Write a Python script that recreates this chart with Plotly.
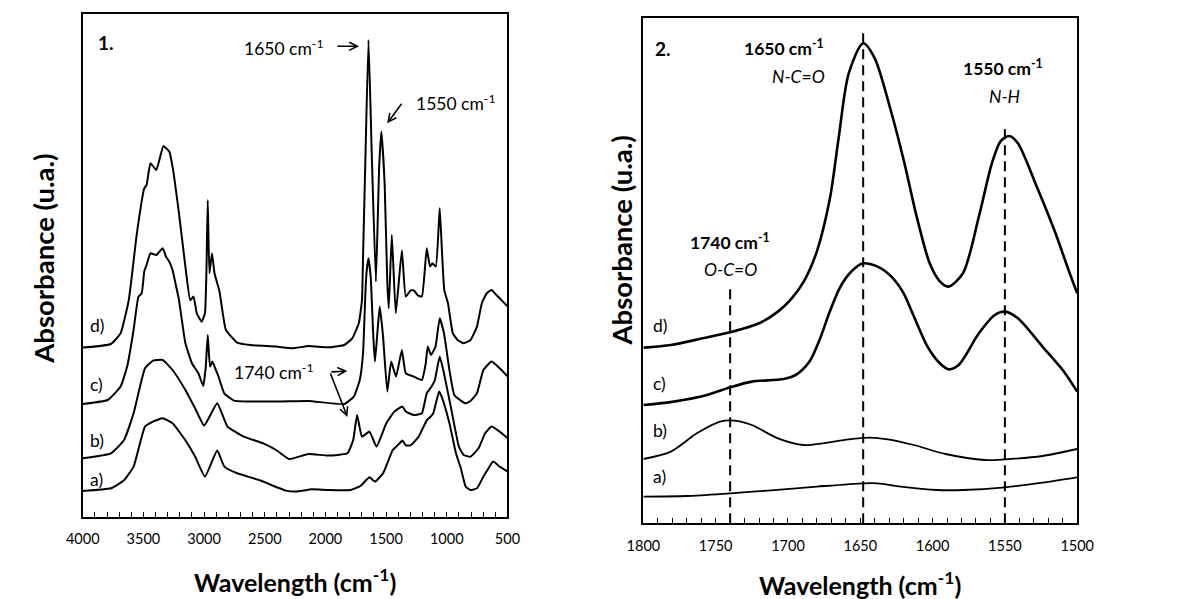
import plotly.graph_objects as go

# ---------------- Panel 1 data (wavenumber cm-1, absorbance u.a.) ----------------
a1_wn = [4000, 3768, 3661, 3581, 3487, 3421, 3341, 3260, 3154, 3074, 2993, 2892, 2833, 2727, 2540,
         2326, 2246, 2112, 1979, 1792, 1712, 1637, 1592, 1525, 1445, 1405, 1365, 1338, 1298, 1231,
         1165, 1138, 1111, 1063, 1031, 978, 924, 884, 844, 804, 751, 698, 666, 618, 564, 497]
a1_y = [26.3, 29, 37, 50.7, 90.7, 95.7, 99, 94, 77, 60.7, 40.7, 66.7, 50.7, 44, 37,
        26.7, 25.7, 28, 27.3, 27.3, 31.3, 40, 35.7, 44, 67.3, 72, 76.7, 72, 72, 80.7,
        97, 100, 104, 125.7, 117, 94, 64, 49, 30.7, 27.3, 29, 40.7, 47, 55.7, 50.7, 45.7]

b1_wn = [4000, 3768, 3661, 3581, 3487, 3421, 3341, 3260, 3154, 3074, 2999, 2892, 2807, 2673, 2513,
         2406, 2299, 2139, 1979, 1819, 1771, 1739, 1699, 1637, 1579, 1498, 1432, 1365, 1338, 1271,
         1205, 1165, 1125, 1098, 1058, 1023, 967, 900, 860, 804, 738, 684, 631, 564, 497]
b1_y = [59, 64, 77, 104, 149, 156.7, 157.3, 147.3, 127.3, 109, 91.7, 114, 90.7, 80.7, 74,
        67.3, 58.3, 63.3, 61.7, 64, 77.3, 102.3, 80.7, 85.7, 70.7, 94, 105.7, 110.7, 105.7, 102.3,
        104, 124, 130.7, 137.3, 160.7, 144, 110.7, 70.7, 62.3, 60.7, 69, 84, 90.7, 85.7, 79]

c1_wn = [4000, 3794, 3688, 3634, 3581, 3541, 3514, 3493, 3474, 3442, 3394, 3341, 3314, 3287, 3260,
         3230, 3207, 3154, 3100, 3079, 3047, 3007, 2986, 2970, 2951, 2932, 2908, 2881, 2833, 2753,
         2406, 2139, 1845, 1766, 1717, 1690, 1672, 1661, 1645, 1627, 1605, 1592, 1570, 1552, 1525,
         1490, 1458, 1418, 1370, 1338, 1271, 1205, 1173, 1157, 1130, 1093, 1058, 1023, 978, 938,
         884, 844, 804, 751, 698, 631, 564, 497]
c1_y = [113.3, 117.3, 130.7, 150.7, 187.3, 220.7, 224, 245.7, 252.3, 264, 262.3, 269, 260.7, 255.7, 247.3,
        230.7, 217.3, 174, 154, 150, 144, 131.3, 150.7, 182.3, 150.7, 155.7, 149, 140.7, 124, 116.7,
        115.7, 116.3, 113.3, 120.7, 137.3, 164, 220, 245, 259, 240.7, 180, 155.7, 187.3, 210.7, 180.7,
        125.7, 155.7, 140.7, 167.3, 144, 140.7, 137.3, 154, 170.7, 162.3, 170.7, 199, 184, 147.3, 122.3,
        116.7, 114, 116.3, 124, 147.3, 155.7, 149, 140.7]

d1_wn = [4000, 3768, 3688, 3621, 3554, 3493, 3474, 3442, 3394, 3335, 3287, 3260, 3207, 3154, 3114,
         3087, 3060, 3020, 2993, 2980, 2970, 2956, 2935, 2914, 2873, 2846, 2820, 2727, 2620, 2406,
         2273, 2139, 1979, 1845, 1779, 1725, 1699, 1690, 1672, 1645, 1619, 1584, 1557, 1539, 1512,
         1490, 1478, 1453, 1420, 1370, 1338, 1298, 1271, 1240, 1205, 1165, 1138, 1118, 1090, 1058,
         1040, 1020, 990, 950, 910, 860, 804, 751, 711, 671, 631, 591, 537, 497]
d1_y = [169.7, 173.3, 184, 217, 284, 329, 332.3, 354, 347.3, 371.3, 365.7, 350.7, 304, 250.7, 217,
        220.7, 204, 195.7, 204, 250, 317.3, 244, 264, 244, 225.7, 204, 187.3, 174.7, 172.3, 170.7,
        169, 171.3, 170, 172.3, 179, 194, 217, 260, 350.7, 477.3, 367.3, 235.7, 350.7, 385.7, 334,
        234, 209, 282.3, 204, 267, 220.7, 227, 227, 222, 220.7, 269, 250.7, 254, 250.7, 309,
        267, 227, 214, 184, 177.3, 174, 177.3, 190.7, 214, 224, 227.3, 222.3, 215.7, 210.7]

# ---------------- Panel 2 data (zoom 1800-1500 cm-1) ----------------
a2_wn = [1800, 1770, 1740, 1714, 1680, 1648, 1638, 1622, 1597, 1579, 1550, 1524, 1500]
a2_y = [26.7, 27.3, 30, 32.7, 36.7, 40, 40, 36.7, 33.3, 33.3, 36, 40.7, 46]

b2_wn = [1800, 1781, 1763, 1747, 1737, 1725, 1707, 1689, 1676, 1658, 1644, 1631, 1613, 1591, 1564, 1550, 1524, 1500]
b2_y = [64.3, 71.7, 90, 101.7, 102.7, 98.3, 85, 78.3, 80, 84, 85.7, 84, 78.3, 69.3, 63.3, 64, 67.3, 74.3]

c2_wn = [1800, 1779, 1756, 1740, 1725, 1703, 1694, 1685, 1678, 1671, 1664, 1656, 1648, 1637, 1628,
         1620, 1613, 1604, 1595, 1589, 1582, 1568, 1557, 1550, 1541, 1524, 1510, 1500]
c2_y = [118.3, 121.7, 128.3, 136, 141.7, 144.3, 149, 162, 184, 212, 236, 252, 260, 256, 246,
        230, 207, 178, 160, 154, 158.3, 190, 208.3, 211.7, 205, 176.7, 153.3, 131.7]

d2_wn = [1800, 1781, 1759, 1740, 1720, 1707, 1698, 1689, 1680, 1671, 1665, 1658, 1648, 1640, 1629,
         1620, 1611, 1602, 1595, 1589, 1579, 1568, 1559, 1553, 1547, 1541, 1528, 1515, 1506, 1500]
d2_y = [175.7, 178.3, 185, 191, 200, 211.7, 224, 242, 272, 325, 385, 450, 480, 465, 413.3,
        363.3, 306.7, 260, 242, 236.7, 250, 306.7, 360, 382, 387.3, 380, 336.7, 290, 253.3, 230]

band_wn = [1740, 1648, 1550]
band_top = [235, 495, 398]

series_labels = ["a)", "b)", "c)", "d)"]
left_label_y = [38, 77, 133, 192]
right_label_y = [47.3, 93.3, 140.3, 198.3]

W, H = 1178, 599
FONT = "Lato"

fig = go.Figure()

for xs, ys in [(a1_wn, a1_y), (b1_wn, b1_y), (c1_wn, c1_y), (d1_wn, d1_y)]:
    fig.add_trace(go.Scatter(x=xs, y=ys, mode="lines",
                             line=dict(color="black", width=2, shape="spline", smoothing=0.4),
                             xaxis="x", yaxis="y", showlegend=False, hoverinfo="skip"))

for (xs, ys), w in zip([(a2_wn, a2_y), (b2_wn, b2_y), (c2_wn, c2_y), (d2_wn, d2_y)], [1.8, 1.8, 2.6, 2.6]):
    fig.add_trace(go.Scatter(x=xs, y=ys, mode="lines", line=dict(color="black", width=w, shape="spline", smoothing=0.8),
                             xaxis="x2", yaxis="y2", showlegend=False, hoverinfo="skip"))

for wn, top in zip(band_wn, band_top):
    fig.add_trace(go.Scatter(x=[wn, wn], y=[0, top], mode="lines",
                             line=dict(color="black", width=2, dash="10px,6px"),
                             xaxis="x2", yaxis="y2", showlegend=False, hoverinfo="skip"))

axis_common = dict(showline=True, linecolor="black", linewidth=1.5, mirror=True, showgrid=False, zeroline=False)

fig.update_layout(
    width=W, height=H,
    margin=dict(l=0, r=0, t=0, b=0),
    paper_bgcolor="white", plot_bgcolor="white",
    font=dict(family=FONT, color="black"),
    xaxis=dict(domain=[67.7 / W, 505 / W], range=[4000, 500], dtick=500, tick0=500,
               ticks="inside", ticklen=6, tickwidth=1, tickcolor="black", ticklabelstandoff=8,
               minor=dict(dtick=100, ticks="inside", ticklen=6, tickwidth=1, tickcolor="black"),
               tickfont=dict(size=14.5, family=FONT), anchor="y", **axis_common),
    yaxis=dict(domain=[1 - 517.3 / H, 1 - 14 / H], range=[0, 503.3], showticklabels=False, ticks="",
               anchor="x", **axis_common),
    xaxis2=dict(domain=[645 / W, 1091.7 / W], range=[1800, 1500], dtick=50, tick0=1500,
                ticks="inside", ticklen=6, tickwidth=1, tickcolor="black", ticklabelstandoff=9,
                minor=dict(dtick=10, ticks="inside", ticklen=6, tickwidth=1, tickcolor="black"),
                tickfont=dict(size=14.5, family=FONT), anchor="y2", **axis_common),
    yaxis2=dict(domain=[1 - 523.3 / H, 1 - 17.7 / H], range=[0, 505.6], showticklabels=False, ticks="",
                anchor="x2", **axis_common),
)

ann = []
for lab, yl, yr in zip(series_labels, left_label_y, right_label_y):
    ann.append(dict(x=3957, y=yl, xref="x", yref="y", text=lab, showarrow=False, xanchor="left",
                    yanchor="middle", font=dict(size=17.5)))
    ann.append(dict(x=1794.6, y=yr, xref="x2", yref="y2", text=lab, showarrow=False, xanchor="left",
                    yanchor="middle", font=dict(size=17.5)))

ann.append(dict(x=3887, y=475, xref="x", yref="y", text="<b>1.</b>", showarrow=False, xanchor="left",
                yanchor="middle", font=dict(size=19)))
ann.append(dict(x=1995, y=470, xref="x", yref="y", text="1650 cm<sup>-1</sup>", showarrow=False,
                xanchor="right", yanchor="middle", font=dict(size=17.5)))
ann.append(dict(x=1722, y=471, ax=1914, ay=471, xref="x", yref="y", axref="x", ayref="y", text="",
                showarrow=True, arrowhead=5, arrowsize=1, arrowwidth=1.6, arrowcolor="black"))
ann.append(dict(x=1274, y=415, xref="x", yref="y", text="1550 cm<sup>-1</sup>", showarrow=False,
                xanchor="left", yanchor="middle", font=dict(size=17.5)))
ann.append(dict(x=1491, y=394, ax=1363, ay=415, xref="x", yref="y", axref="x", ayref="y", text="",
                showarrow=True, arrowhead=5, arrowsize=1, arrowwidth=1.6, arrowcolor="black"))
ann.append(dict(x=2075, y=146, xref="x", yref="y", text="1740 cm<sup>-1</sup>", showarrow=False,
                xanchor="right", yanchor="middle", font=dict(size=17.5)))
ann.append(dict(x=1819, y=146.3, ax=1963, ay=145.3, xref="x", yref="y", axref="x", ayref="y", text="",
                showarrow=True, arrowhead=5, arrowsize=1, arrowwidth=1.6, arrowcolor="black"))
ann.append(dict(x=1819, y=100.3, ax=1963, ay=145.3, xref="x", yref="y", axref="x", ayref="y", text="",
                showarrow=True, arrowhead=5, arrowsize=1, arrowwidth=1.6, arrowcolor="black"))

ann.append(dict(x=1793.3, y=475.3, xref="x2", yref="y2", text="<b>2.</b>", showarrow=False, xanchor="left",
                yanchor="middle", font=dict(size=19)))
ann.append(dict(x=1673.7, y=476.3, xref="x2", yref="y2", text="<b>1650 cm<sup>-1</sup></b>", showarrow=False,
                xanchor="right", yanchor="middle", font=dict(size=17.5)))
ann.append(dict(x=1673, y=447.3, xref="x2", yref="y2", text="<i>N-C=O</i>", showarrow=False,
                xanchor="right", yanchor="middle", font=dict(size=17.5)))
ann.append(dict(x=1551.5, y=456.3, xref="x2", yref="y2", text="<b>1550 cm<sup>-1</sup></b>", showarrow=False,
                xanchor="center", yanchor="middle", font=dict(size=17.5)))
ann.append(dict(x=1550, y=427.3, xref="x2", yref="y2", text="<i>N-H</i>", showarrow=False,
                xanchor="center", yanchor="middle", font=dict(size=17.5)))
ann.append(dict(x=1740.2, y=282.3, xref="x2", yref="y2", text="<b>1740 cm<sup>-1</sup></b>", showarrow=False,
                xanchor="center", yanchor="middle", font=dict(size=17.5)))
ann.append(dict(x=1739.6, y=254.3, xref="x2", yref="y2", text="<i>O-C=O</i>", showarrow=False,
                xanchor="center", yanchor="middle", font=dict(size=17.5)))

for xc, yc in [(286.5 / W, 1 - 580 / H), (868.5 / W, 1 - 583 / H)]:
    ann.append(dict(x=xc, y=yc, xref="paper", yref="paper", text="<b>Wavelength (cm<sup>-1</sup>)</b>",
                    showarrow=False, xanchor="center", yanchor="middle", font=dict(size=25)))
for xc, yc in [(27 / W, 1 - 258.5 / H), (622.5 / W, 1 - 241 / H)]:
    ann.append(dict(x=xc, y=yc, xref="paper", yref="paper", text="<b>Absorbance (u.a.)</b>",
                    showarrow=False, xanchor="center", yanchor="middle", textangle=-90, font=dict(size=27.5)))

fig.update_layout(annotations=ann)
fig.write_html("out.html", config={"displayModeBar": False},
               post_script="document.body.style.margin='0px';document.body.style.overflow='hidden';")
